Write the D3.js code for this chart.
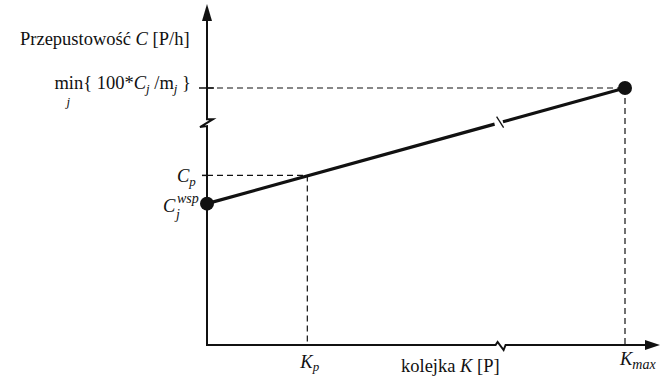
<!DOCTYPE html>
<html>
<head>
<meta charset="utf-8">
<script src="https://cdn.jsdelivr.net/npm/d3@7/dist/d3.min.js"></script>
<style>
  html, body { margin: 0; padding: 0; background: #fff; }
  svg text { font-family: "Liberation Serif", "DejaVu Serif", "Times New Roman", Times, serif; fill: #111; }
</style>
</head>
<body>
<svg id="chart" width="661" height="378"></svg>
<script>
// Throughput C as a function of queue length K (schematic, arbitrary units)
const queueK = [0, 100];          // K = 0 and K = K_max
const throughputC = [55, 100];    // C_j^wsp and min{100*C_j/m_j}
const kMarks = [24, 100];         // K_p, K_max
const cMarks = [66, 100];         // C_p, min{...}
const kBreak = 70;                // where the K axis and the line are broken
const cBreak = 87.5;              // where the C axis is broken

const svg = d3.select("#chart");
const x = d3.scaleLinear().domain([0, 100]).range([207, 625]);
const y = d3.scaleLinear().domain([0, 100]).range([345, 88]);
const x0 = x(0), y0 = y(0);
const ink = "#111";

// dashed guide lines
const dash = "6,4";
const guides = [
  [x0, y(cMarks[1]), x(kMarks[1]), y(cMarks[1])],
  [x(kMarks[1]), y(cMarks[1]), x(kMarks[1]), y0],
  [x0, y(cMarks[0]), x(kMarks[0]), y(cMarks[0])],
  [x(kMarks[0]), y(cMarks[0]), x(kMarks[0]), y0]
];
svg.selectAll("line.guide").data(guides).join("line")
  .attr("class", "guide")
  .attr("x1", d => d[0]).attr("y1", d => d[1])
  .attr("x2", d => d[2]).attr("y2", d => d[3])
  .attr("stroke", ink).attr("stroke-width", 1.2)
  .attr("stroke-dasharray", dash);

// axes with breaks
const yb = y(cBreak), xb = x(kBreak);
const axisPaths = [
  `M${x0},${y0 + 1}L${x0},${yb + 6}L${x0 - 7},${yb + 7}L${x0 + 6},${yb - 1}L${x0},${yb - 1}L${x0},18`,
  `M${x0 - 1},${y0}L${xb - 4},${y0}L${xb - 2},${y0 - 3}L${xb + 4},${y0 + 5}L${xb + 6},${y0}L648,${y0}`
];
svg.selectAll("path.axis").data(axisPaths).join("path")
  .attr("class", "axis").attr("d", d => d)
  .attr("fill", "none").attr("stroke", ink).attr("stroke-width", 2);

// arrow heads
svg.append("path").attr("d", `M${x0},4L${x0 + 5},21L${x0 - 5},21Z`).attr("fill", ink);
svg.append("path").attr("d", `M660,${y0}L645,${y0 - 5}L645,${y0 + 5}Z`).attr("fill", ink);

// ticks on the C axis
svg.append("line").attr("x1", x0 - 8).attr("x2", x0 + 7)
  .attr("y1", y(cMarks[1])).attr("y2", y(cMarks[1]))
  .attr("stroke", ink).attr("stroke-width", 1.5);
svg.append("line").attr("x1", x0 - 5).attr("x2", x0)
  .attr("y1", y(cMarks[0])).attr("y2", y(cMarks[0]))
  .attr("stroke", ink).attr("stroke-width", 1.5);

// throughput line, broken near K = kBreak
const cAt = k => throughputC[0] + (throughputC[1] - throughputC[0]) * (k - queueK[0]) / (queueK[1] - queueK[0]);
const segs = [
  [[queueK[0], throughputC[0]], [kBreak - 1.2, cAt(kBreak - 1.2)]],
  [[kBreak + 0.8, cAt(kBreak + 0.8)], [queueK[1], throughputC[1]]]
];
const line = d3.line().x(d => x(d[0])).y(d => y(d[1]));
svg.selectAll("path.seg").data(segs).join("path")
  .attr("class", "seg").attr("d", line)
  .attr("fill", "none").attr("stroke", ink).attr("stroke-width", 3.2);
svg.append("line")
  .attr("x1", x(kBreak) - 3).attr("y1", y(cAt(kBreak)) - 6)
  .attr("x2", x(kBreak) + 4).attr("y2", y(cAt(kBreak)) + 5)
  .attr("stroke", ink).attr("stroke-width", 1.3);

// end points
svg.selectAll("circle.pt").data(queueK.map((k, i) => [k, throughputC[i]])).join("circle")
  .attr("class", "pt")
  .attr("cx", d => x(d[0])).attr("cy", d => y(d[1]))
  .attr("r", 7).attr("fill", ink);

// labels
const fs = 18.5;
svg.append("text").attr("x", 20).attr("y", 45).attr("font-size", fs)
  .html('Przepustowość <tspan font-style="italic">C</tspan> [P/h]');

const minLab = svg.append("g");
const minText = minLab.append("text").attr("x", 191).attr("y", 89)
  .attr("font-size", fs).attr("text-anchor", "end")
  .html('min{ 100*<tspan font-style="italic">C</tspan><tspan font-style="italic" font-size="13" dy="4">j</tspan><tspan dy="-4"> /m</tspan><tspan font-style="italic" font-size="13" dy="4">j</tspan><tspan dy="-4"> }</tspan>');
// subscript j under "min"
const bb = minText.node().getBBox();
minLab.append("text").attr("x", bb.x + 12).attr("y", 106).attr("font-size", 13)
  .attr("font-style", "italic").text("j");

svg.append("text").attr("x", 177).attr("y", 182).attr("font-size", fs)
  .html('<tspan font-style="italic">C</tspan><tspan font-style="italic" font-size="13" dy="4">p</tspan>');

svg.append("text").attr("x", 163).attr("y", 212).attr("font-size", fs).attr("font-style", "italic").text("C");
svg.append("text").attr("x", 177).attr("y", 203).attr("font-size", 14).attr("font-style", "italic").text("wsp");
svg.append("text").attr("x", 176).attr("y", 219).attr("font-size", 14).attr("font-style", "italic").text("j");

svg.append("text").attr("x", x(kMarks[0]) - 7).attr("y", 368).attr("font-size", fs)
  .html('<tspan font-style="italic">K</tspan><tspan font-style="italic" font-size="13" dy="3">p</tspan>');
svg.append("text").attr("x", 401).attr("y", 372).attr("font-size", fs)
  .html('kolejka <tspan font-style="italic">K</tspan> [P]');
svg.append("text").attr("x", x(kMarks[1]) - 5).attr("y", 365).attr("font-size", fs)
  .html('<tspan font-style="italic">K</tspan><tspan font-style="italic" font-size="14" dy="4">max</tspan>');
</script>
</body>
</html>
